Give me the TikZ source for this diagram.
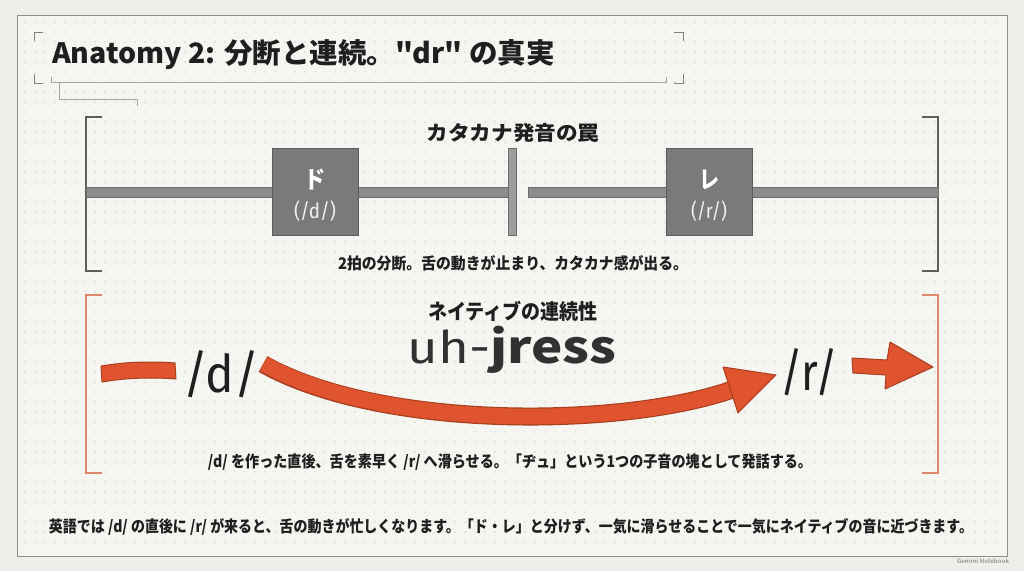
\documentclass[tikz,border=0pt]{standalone}
\usepackage{fontspec}
\usepackage{graphicx}
\newfontfamily\jp{Noto Sans CJK JP}
\newfontfamily\lightf{Fira Sans}
\usetikzlibrary{arrows.meta}
\definecolor{bgc}{HTML}{EFEFEA}
\definecolor{framefill}{HTML}{F5F5F1}
\definecolor{framec}{HTML}{8E8E8B}
\definecolor{dotc}{HTML}{E5E5E0}
\definecolor{ink}{HTML}{1F1F1F}
\definecolor{barc}{HTML}{8C8C8C}
\definecolor{bardark}{HTML}{6E6E6E}
\definecolor{boxc}{HTML}{7A7A7A}
\definecolor{boxdark}{HTML}{5C5C5C}
\definecolor{orng}{HTML}{E0532F}
\definecolor{orngdark}{HTML}{A8401F}
\definecolor{orngbr}{HTML}{D98A6E}
\definecolor{brgray}{HTML}{5E5E5E}
\newcommand{\fitw}[3]{\resizebox{#1pt}{\height}{\fontsize{#2}{#2}\selectfont #3}}
\tikzset{
  txt/.style={inner sep=0pt, outer sep=0pt, text=ink, font=\jp},
  katabox/.style={draw=boxdark, fill=boxc, line width=1pt, minimum width=86pt, minimum height=87pt, inner sep=0pt},
  bargray/.style={draw=bardark, fill=barc, line width=0.6pt},
  brk/.style={draw=brgray, line width=1.3pt},
  obrk/.style={draw=orngbr, line width=1.2pt},
  corner/.style={draw=framec!90!black, line width=0.9pt},
  orangeshape/.style={fill=orng, draw=orngdark, line width=1pt, line join=round},
}
\begin{document}
\begin{tikzpicture}[x=1pt,y=-1pt]
\useasboundingbox (0,0) rectangle (1024,571);
\fill[bgc] (0,0) rectangle (1024,571);
% frame
\filldraw[fill=framefill, draw=framec, line width=1pt] (17,15) rectangle (1007,556);
% dot grid
\foreach \y in {22,32,...,550} { \foreach \x in {25,35,...,1000} { \fill[dotc] (\x-0.55,\y-0.55) rectangle (\x+0.55,\y+0.55); } }

% title
\node[txt, anchor=west] (title) at (52,55) {\fitw{503}{28}{\bfseries Anatomy 2: 分断と連続。"dr" の真実}};
\draw[corner] (34,41) -- (34,32) -- (43,32);
\draw[corner] (674,32) -- (683,32) -- (683,41);
\draw[corner] (34,74) -- (34,83) -- (43,83);
\draw[corner] (674,83) -- (683,83) -- (683,74);
\draw[draw=framec!80, line width=0.8pt] (51,77) -- (51,82) -- (666,82) -- (666,77);
\draw[draw=framec!80, line width=0.8pt] (59,82) -- (59,99) -- (137,99) -- (137,106);

% ---- section 1: katakana trap
\draw[brk] (102,117) -- (86,117) -- (86,271) -- (102,271);
\draw[brk] (922,117) -- (938,117) -- (938,271) -- (922,271);
\node[txt, font=\jp\bfseries] (trap) at (513,133) {\fitw{173}{20}{カタカナ発音の罠}};
\path[bargray] (86,187) rectangle (510,197);
\path[bargray] (528,187) rectangle (938,197);
\node[bargray, minimum width=8pt, minimum height=87pt, inner sep=0pt, fill=barc!85!white] (div) at (512.5,191.5) {};
\node[katabox] (do) at (315,191.5) {};
\node[katabox] (re) at (709,191.5) {};
\node[txt, text=white] at ([yshift=12pt]do.center) {\fitw{21}{24}{\bfseries ド}};
\node[txt, text=white!88!gray] at ([yshift=-20pt]do.center) {\fitw{42}{21}{\lightf (/d/)}};
\node[txt, text=white] at ([yshift=12pt]re.center) {\fitw{20}{24}{\bfseries レ}};
\node[txt, text=white!88!gray] at ([yshift=-20pt]re.center) {\fitw{36}{21}{\lightf (/r/)}};
\node[txt] (cap1) at (513,263) {\fitw{350}{16}{\bfseries 2拍の分断。舌の動きが止まり、カタカナ感が出る。}};

% ---- section 2: native continuity
\draw[obrk] (102,295) -- (86,295) -- (86,473) -- (102,473);
\draw[obrk] (922,295) -- (938,295) -- (938,473) -- (922,473);
\node[txt] (nat) at (513,311) {\fitw{170}{21}{\bfseries ネイティブの連続性}};
\node[txt, text=ink!92!white, anchor=base] (uh) at (512,363) {\fitw{209}{45}{\lightf uh-\jp\bfseries jress}};
\node[txt] (dsym) at (221,374) {\fitw{76}{52}{\lightf /d/}};
\node[txt] (rsym) at (809,372) {\fitw{58}{52}{\lightf /r/}};
% left stub
\path[orangeshape] (101,366) .. controls (125,362) and (150,361) .. (175,363) -- (176,379) .. controls (150,377) and (125,378) .. (102,382) -- cycle;
% big curved arrow from /d/ to /r/
\coordinate (a0) at (263,364);
\coordinate (a1) at (731,390);
\draw[orngdark, line width=18pt] (a0) .. controls (380,430) and (620,428) .. (a1);
\draw[orng, line width=15.6pt] ([xshift=0.6pt,yshift=0.3pt]a0) .. controls (380,430) and (620,428) .. (a1);
\path[orangeshape] (723,367) -- (776,375) -- (738,413) -- cycle;
% right stub arrow
\path[orangeshape] (852,358) -- (887,360) -- (890,342) -- (933,367) -- (885,389) -- (886,375) -- (853,373) -- cycle;
\node[txt] (cap2) at (510,462) {\fitw{604}{16}{\bfseries /d/ を作った直後、舌を素早く /r/ へ滑らせる。「ヂュ」という1つの子音の塊として発話する。}};

% ---- bottom text
\node[txt] (bottom) at (511,527) {\fitw{924}{16}{\bfseries 英語では /d/ の直後に /r/ が来ると、舌の動きが忙しくなります。「ド・レ」と分けず、一気に滑らせることで一気にネイティブの音に近づきます。}};
\node[txt, text=gray!90!black] (gem) at (983,561) {\fitw{52}{6}{Gemini Notebook}};
\end{tikzpicture}
\end{document}
